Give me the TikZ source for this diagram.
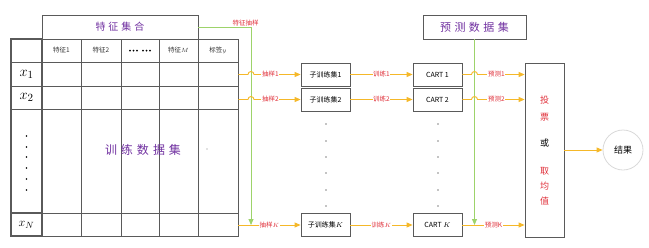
\documentclass[tikz,border=0pt]{standalone}
\usepackage{fontspec}
\newfontfamily\cjk{Noto Sans CJK SC}
\usetikzlibrary{arrows.meta,calc}
\definecolor{ylw}{HTML}{F5B829}
\definecolor{grn}{HTML}{9DD36A}
\definecolor{lbl}{HTML}{E0303A}
\definecolor{pur}{HTML}{7030A0}
\definecolor{bdr}{HTML}{5A5A5A}
\begin{document}
\begin{tikzpicture}[x=1pt,y=-1pt,
  box/.style={draw=bdr, line width=0.8pt, minimum width=49pt, minimum height=23pt, inner sep=0pt, font=\cjk\fontsize{7}{8}\selectfont},
  title/.style={draw=bdr, line width=0.8pt, inner sep=0pt, text=pur},
  yarr/.style={draw=ylw, line width=0.9pt, -{Triangle[length=6pt,width=5pt]}},
  garr/.style={draw=grn, line width=0.8pt, -{Triangle[length=6pt,width=5pt]}},
  lab/.style={text=lbl, font=\cjk\fontsize{6.5}{7}\selectfont, fill=white, inner sep=0.6pt},
  hdr/.style={font=\cjk\fontsize{6.5}{7}\selectfont, text=black!80},
  rowl/.style={font=\fontsize{15}{16}\selectfont},
  grid/.style={draw=bdr, line width=0.7pt}
]
\useasboundingbox (0,0) rectangle (649,247);
% ---- table ----
\node[title, minimum width=156pt, minimum height=24pt, font=\cjk\fontsize{10}{12}\selectfont] (fs) at (120,27) {特\hspace{3pt}征\hspace{3pt}集\hspace{3pt}合};
\node[draw=bdr, line width=0.9pt, minimum width=227pt, minimum height=197pt, inner sep=0pt] (tbl) at (124.5,137.5) {};
\foreach \cx in {42,81,121,159,198} \draw[grid] (\cx,39) -- (\cx,236);
\foreach \ry in {62,86,109,213} \draw[grid] (11,\ry) -- (238,\ry);
\draw[draw=bdr, line width=1.1pt] (11,39) rectangle (42,236);
\draw[draw=bdr, line width=1.1pt] (11,213) rectangle (42,236);
\node[hdr] at (61.5,50.5) {特征1};
\node[hdr] at (101,50.5) {特征2};
\foreach \bx in {130,133.5,137,143,146.5,150} \fill[black] (\bx,50.5) circle[radius=1pt];
\node[hdr] at (178.5,50.5) {特征$M$};
\node[hdr] at (218,50.5) {标签$y$};
\node[rowl] at (26.5,74) {$x_1$};
\node[rowl] at (26.5,97.5) {$x_2$};
\node[font=\fontsize{13}{14}\selectfont] at (26.5,224.5) {$x_N$};
\foreach \dy in {136,147,157,168,179,190} \fill[black] (26.5,\dy) circle[radius=0.8pt];
\node[text=pur, font=\cjk\fontsize{12}{14}\selectfont] at (143,150) {训\hspace{4pt}练\hspace{4pt}数\hspace{4pt}据\hspace{4pt}集};
\fill[gray] (207,149) circle[radius=0.6pt];
% ---- sub training sets ----
\node[box] (s1) at (325.5,74.5) {子训练集1};
\node[box] (s2) at (325.5,99.5) {子训练集2};
\node[box] (sk) at (325.5,225) {子训练集$K$};
\foreach \dy in {124,141,157,173,190,206} {\fill[black] (326,\dy) circle[radius=0.6pt]; \fill[black] (438,\dy) circle[radius=0.6pt];}
% ---- CART ----
\node[box] (c1) at (437.5,74.5) {CART 1};
\node[box] (c2) at (437.5,99.5) {CART 2};
\node[box] (ck) at (437.5,225) {CART $K$};
% ---- prediction set ----
\node[title, minimum width=103pt, minimum height=24pt, font=\cjk\fontsize{11}{13}\selectfont] (ps) at (474.5,27) {预\hspace{3.5pt}测\hspace{3.5pt}数\hspace{3.5pt}据\hspace{3.5pt}集};
% ---- vote box ----
\node[draw=bdr, line width=0.8pt, minimum width=39pt, minimum height=174pt, inner sep=0pt] (v) at (544.5,150) {};
\begin{scope}[font=\cjk\fontsize{9}{10}\selectfont]
\node[text=lbl] at (544.5,100) {投};
\node[text=lbl] at (544.5,117) {票};
\node[text=black] at (544.5,143) {或};
\node[text=lbl] at (544.5,171) {取};
\node[text=lbl] at (544.5,186) {均};
\node[text=lbl] at (544.5,201) {值};
\end{scope}
% ---- result ----
\node[circle, draw=black!15, line width=0.8pt, minimum size=40pt, inner sep=0pt, font=\cjk\fontsize{9}{10}\selectfont] (res) at (623,150) {结果};
% ---- green feature sampling line ----
\coordinate (gk) at (251,225);
\draw[garr] (fs.east) -| node[pos=0.45, above=0pt, lab, fill=none] {特征抽样} (gk);
\coordinate (pk) at (ps.south |- ck.east);
\draw[garr] (ps.south) -- (pk);
% ---- yellow arrows ----
\draw[yarr] (tbl.east |- s1.west) -- (248,74.5) arc[start angle=180,end angle=0,radius=3pt] -- node[lab,pos=0.35] {抽样1} (s1.west);
\draw[yarr] (tbl.east |- s2.west) -- (248,99.5) arc[start angle=180,end angle=0,radius=3pt] -- node[lab,pos=0.35] {抽样2} (s2.west);
\draw[yarr] (tbl.east |- sk.west) -- node[lab,pos=0.5] {抽样$K$} (sk.west);
\draw[yarr] (s1.east) -- node[lab] {训练1} (c1.west);
\draw[yarr] (s2.east) -- node[lab] {训练2} (c2.west);
\draw[yarr] (sk.east) -- node[lab] {训练$K$} (ck.west);
\draw[yarr] (c1.east) -- ($(ps.south |- c1.east)+(-3,0)$) arc[start angle=180,end angle=0,radius=3pt] -- node[lab,pos=0.4] {预测1} (v.west |- c1.east);
\draw[yarr] (c2.east) -- ($(ps.south |- c2.east)+(-3,0)$) arc[start angle=180,end angle=0,radius=3pt] -- node[lab,pos=0.4] {预测2} (v.west |- c2.east);
\draw[yarr] (ck.east) -- node[lab,pos=0.5] {预测K} (v.west |- ck.east);
\draw[yarr] (v.east) -- (res.west);
\end{tikzpicture}
\end{document}
